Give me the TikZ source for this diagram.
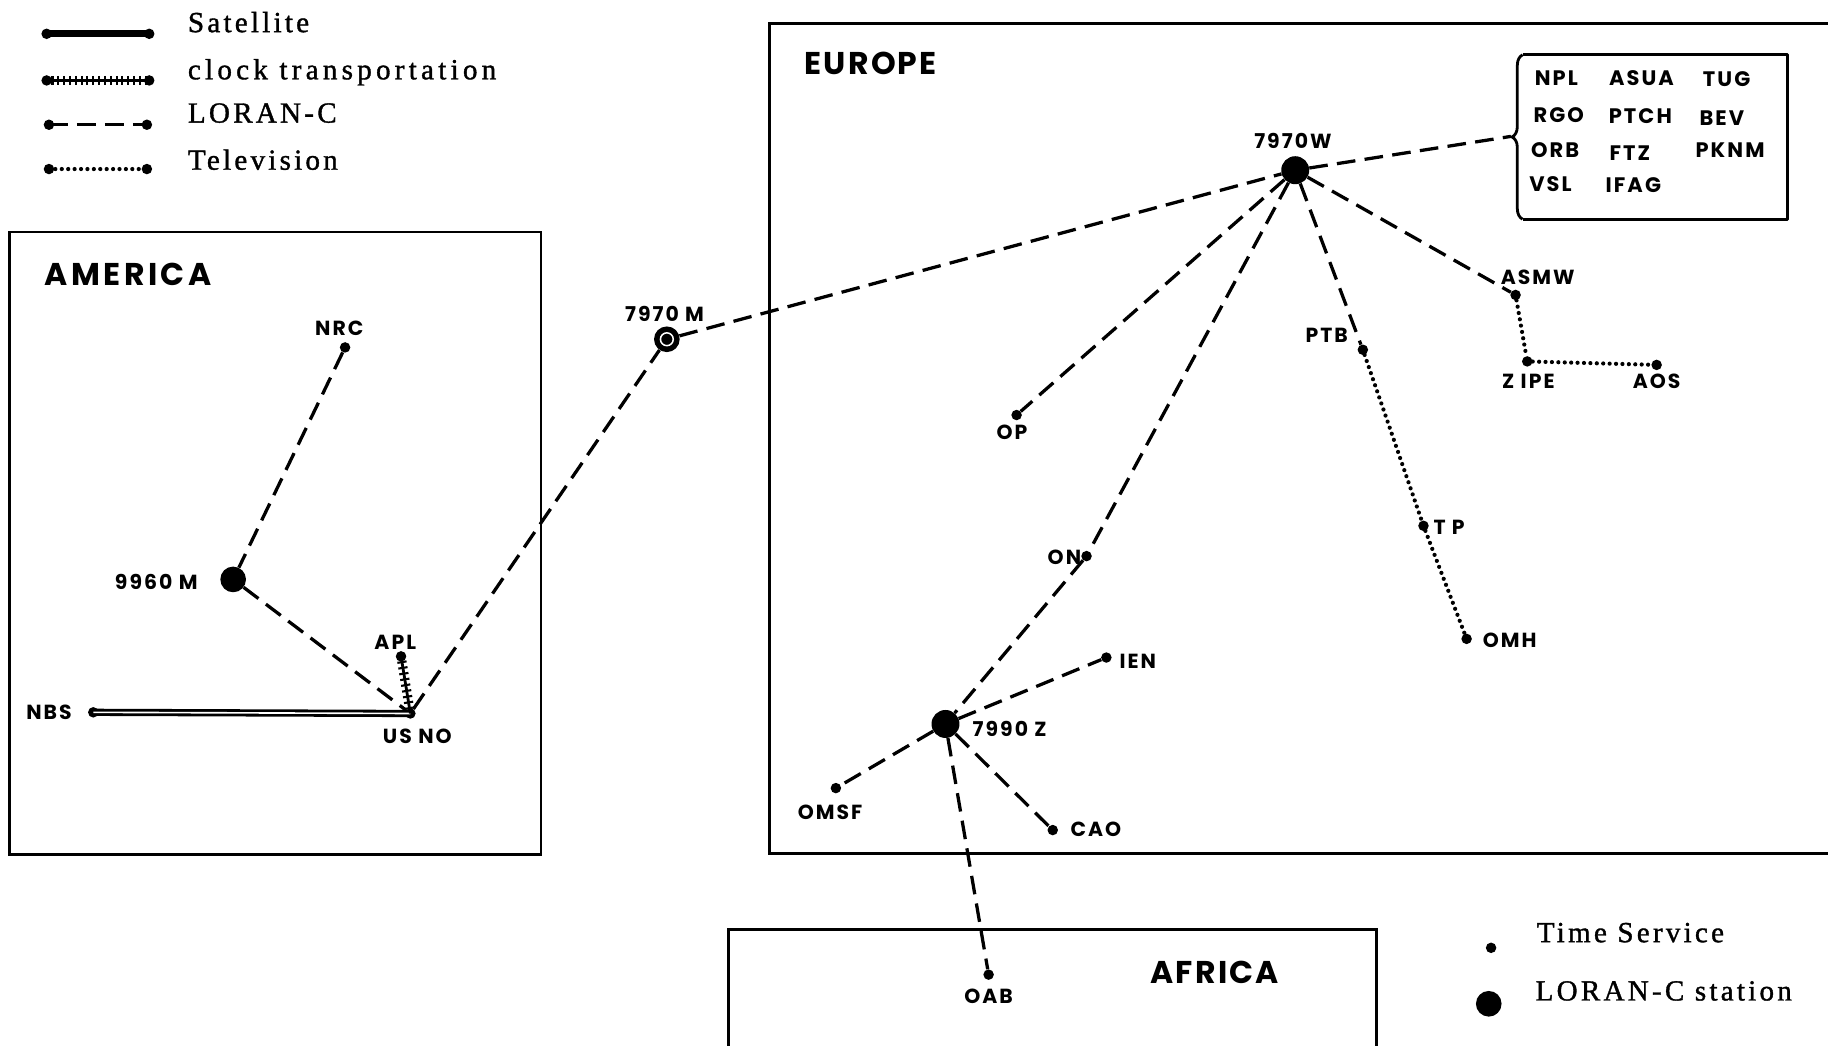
\documentclass[tikz,border=0pt]{standalone}
\usepackage{fontspec}
\setmainfont{Liberation Serif}
\newfontfamily\legfont[LetterSpace=11,FakeBold=1.2]{Liberation Serif}
\newfontfamily\legwidefont[LetterSpace=14.5,FakeBold=1.2]{Liberation Serif}
\newfontfamily\labfont[LetterSpace=10]{Poppins}
\newfontfamily\regfont[LetterSpace=7]{Poppins}
\newfontfamily\regwidefont[LetterSpace=11]{Poppins}
\usetikzlibrary{decorations.pathreplacing}
\begin{document}
\begin{tikzpicture}[x=1pt,y=-1pt,
  loran/.style={line width=2.8pt, dash pattern=on 16pt off 8pt},
  tvline/.style={line width=3.6pt, line cap=round, dash pattern=on 0pt off 5.5pt},
  satleg/.style={line width=6pt, line cap=round},
  satmap/.style={double=white, double distance=1.4pt, line width=2.4pt},
  clockline/.style={line width=2.4pt},
  clockticks/.style={decorate, decoration={ticks, segment length=5pt, amplitude=4pt}, line width=1.8pt},
  ts/.style={circle, fill, inner sep=0pt, minimum size=9pt},
  ls/.style={circle, fill, inner sep=0pt, minimum size=22pt},
  frame/.style={line width=2.4pt},
  lab/.style={font=\labfont\bfseries\fontsize{17.5}{17.5}\selectfont, inner sep=0pt},
  boxlab/.style={font=\labfont\bfseries\fontsize{18}{18}\selectfont, inner sep=0pt},
  region/.style={font=\regfont\bfseries\fontsize{27}{27}\selectfont, inner sep=0pt},
  leg/.style={font=\legfont\fontsize{25}{25}\selectfont, anchor=west, inner sep=0pt}
]
\useasboundingbox (0,0) rectangle (1568,897);

% ---------- legend (top left)
\coordinate (l1a) at (40,29);  \coordinate (l1b) at (128,29);
\coordinate (l2a) at (40,69);  \coordinate (l2b) at (128,69);
\coordinate (l3a) at (42,107); \coordinate (l3b) at (126,107);
\coordinate (l4a) at (42,145); \coordinate (l4b) at (126,145);
\draw[satleg] (l1a) -- (l1b);
\fill (l1a) circle (4.5pt) (l1b) circle (4.5pt);
\draw[clockline] (l2a) -- (l2b);
\draw[clockticks] (l2a) -- (l2b);
\fill (l2a) circle (4.5pt) (l2b) circle (4.5pt);
\draw[loran] (l3a) -- (l3b);
\fill (l3a) circle (4.5pt) (l3b) circle (4.5pt);
\draw[tvline] (l4a) -- (l4b);
\fill (l4a) circle (4.5pt) (l4b) circle (4.5pt);
\node[leg] (tsat) at (161,19) {Satellite};
\node[leg, font=\legwidefont\fontsize{25}{25}\selectfont] (tclk) at (161,62) {clock transportation};
\node[leg] (tlor) at (161,97) {LORAN-C};
\node[leg] (ttv)  at (161,137) {Television};

% ---------- frames
\draw[frame] (8,199) rectangle (464,733);
\draw[frame] (1568,20) -- (660,20) -- (660,732) -- (1568,732);
\draw[frame] (625,900) -- (625,797) -- (1181,797) -- (1181,900);
\node[region, anchor=west, font=\regwidefont\bfseries\fontsize{27}{27}\selectfont] (am) at (38,235) {AMERICA};
\node[region, anchor=west] (eu) at (690,54) {EUROPE};
\node[region] (af) at (1042,834) {AFRICA};

% ---------- box with brace
\draw[frame, line join=round] (1306,47) -- (1533,47) -- (1533,188) -- (1306,188);
\draw[frame, decorate, decoration={brace, amplitude=9pt}] (1306,188) -- (1306,47);
\coordinate (brtip) at (1296,117);
\node[boxlab] (npl)  at (1335,67) {NPL};
\node[boxlab] (asua) at (1408,67) {ASUA};
\node[boxlab] (tug)  at (1481,68) {TUG};
\node[boxlab] (rgo)  at (1337,99) {RGO};
\node[boxlab] (ptch) at (1407,100) {PTCH};
\node[boxlab] (bev)  at (1477,101) {BEV};
\node[boxlab] (orb)  at (1334,129) {ORB};
\node[boxlab] (ftz)  at (1398,131) {FTZ};
\node[boxlab] (pknm) at (1484,129) {PKNM};
\node[boxlab] (vsl)  at (1330,158) {VSL};
\node[boxlab] (ifag) at (1401,159) {IFAG};

% ---------- stations
\node[ts] (nrc)  at (296,298) {};
\node[ls] (s9960) at (200,497) {};
\node[ts] (apl)  at (344,563) {};
\node[ts] (usno) at (352,612) {};
\node[ts] (nbs)  at (80,611) {};
\node[ls] (s7970m) at (572,291) {};
\node[ls, minimum size=24pt] (s7970w) at (1111,146) {};
\node[ts] (ptb)  at (1169,300) {};
\node[ts] (tp)   at (1221,451) {};
\node[ts] (omh)  at (1258,548) {};
\node[ts] (asmw) at (1300,253) {};
\node[ts] (zipe) at (1310,310) {};
\node[ts] (aos)  at (1421,313) {};
\node[ts] (op)   at (872,356) {};
\node[ts] (on)   at (932,477) {};
\node[ts] (ien)  at (949,564) {};
\node[ls, minimum size=24pt] (s7990) at (811,621) {};
\node[ts] (omsf) at (717,676) {};
\node[ts] (cao)  at (903,712) {};
\node[ts] (oab)  at (848,836) {};
\draw[white, line width=1.3pt] (s7970m.center) circle (5.5pt);

% ---------- labels
\node[lab] (lnrc)  at (291,282) {NRC};
\node[lab] (l9960) at (134,499) {9960 M};
\node[lab] (lapl)  at (339,551) {APL};
\node[lab] (lusno) at (358,632) {US NO};
\node[lab] (lnbs)  at (42,611) {NBS};
\node[lab] (l7970m) at (570,269) {7970 M};
\node[lab] (l7970w) at (1109,121) {7970W};
\node[lab] (lptb)  at (1138,288) {PTB};
\node[lab] (ltp)   at (1243,452) {T P};
\node[lab] (lomh)  at (1295,549) {OMH};
\node[lab] (lasmw) at (1319,238) {ASMW};
\node[lab] (lzipe) at (1311,327) {Z IPE};
\node[lab] (laos)  at (1421,327) {AOS};
\node[lab] (lop)   at (868,371) {OP};
\node[lab] (lon)   at (913,478) {ON};
\node[lab] (lien)  at (976,567) {IEN};
\node[lab] (l7990) at (866,625) {7990 Z};
\node[lab] (lomsf) at (712,697) {OMSF};
\node[lab] (lcao)  at (940,711) {CAO};
\node[lab] (loab)  at (848,855) {OAB};

% ---------- connectors
\draw[satmap] (nbs.center) -- (usno.center);
\draw[clockline] (apl.center) -- (usno.center);
\draw[clockticks] (apl.center) -- (usno.center);
\draw[loran] (nrc) -- (s9960);
\draw[loran] (s9960) -- (usno);
\draw[loran] (usno) -- (s7970m);
\draw[loran] (s7970m) -- (s7970w);
\draw[loran] (s7970w) -- (brtip);
\draw[loran] (s7970w) -- (op);
\draw[loran] (s7970w) -- (on);
\draw[loran] (on) -- (s7990);
\draw[loran] (s7970w) -- (ptb);
\draw[loran] (s7970w) -- (asmw);
\draw[loran] (s7990) -- (ien);
\draw[loran] (s7990) -- (omsf);
\draw[loran] (s7990) -- (cao);
\draw[loran] (s7990) -- (oab);
\draw[tvline] (ptb) -- (tp);
\draw[tvline] (tp) -- (omh);
\draw[tvline] (asmw) -- (zipe);
\draw[tvline] (zipe) -- (aos);

% ---------- legend (bottom right)
\node[ts] (kts) at (1279,813) {};
\node[ls] (kls) at (1277,861) {};
\node[leg] (tts) at (1318,800) {Time Service};
\node[leg] (tls) at (1317,850) {LORAN-C station};
\end{tikzpicture}
\end{document}
